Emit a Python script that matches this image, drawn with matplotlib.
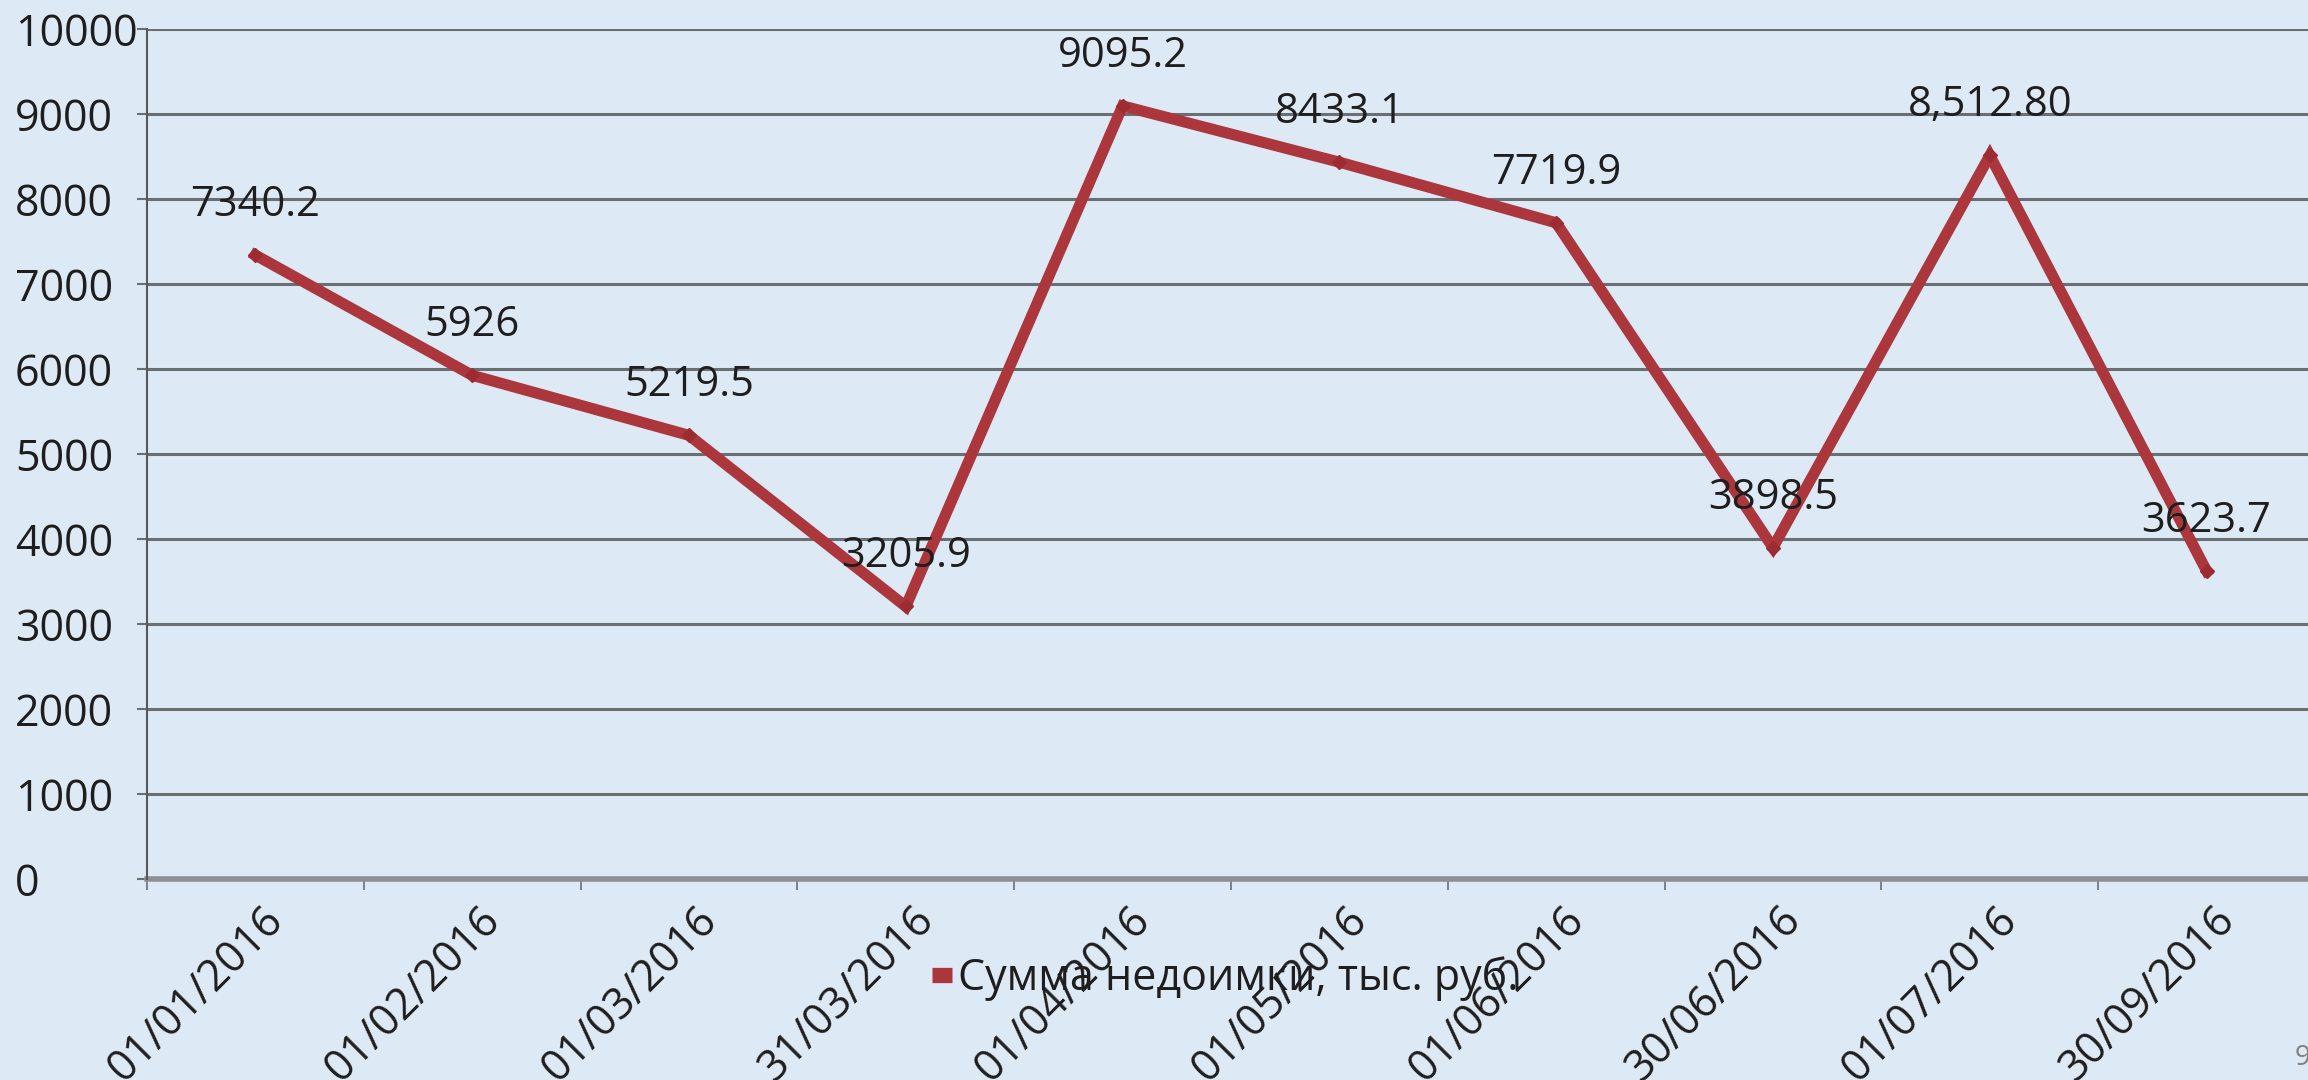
import matplotlib
matplotlib.use("Agg")
import matplotlib.pyplot as plt
from matplotlib.transforms import ScaledTranslation

# data
dates = ["01/01/2016", "01/02/2016", "01/03/2016", "31/03/2016", "01/04/2016",
         "01/05/2016", "01/06/2016", "30/06/2016", "01/07/2016", "30/09/2016"]
arrears = [7340.2, 5926, 5219.5, 3205.9, 9095.2, 8433.1, 7719.9, 3898.5, 8512.8, 3623.7]
value_labels = ["7340.2", "5926", "5219.5", "3205.9", "9095.2",
                "8433.1", "7719.9", "3898.5", "8,512.80", "3623.7"]
y_ticks = [0, 1000, 2000, 3000, 4000, 5000, 6000, 7000, 8000, 9000, 10000]
series_name = "Сумма недоимки, тыс. руб."

bg_color = "#dde9f5"
line_color = "#ab373d"
text_color = "#1e1e1e"
grid_color = "#6a6f74"

plt.rcParams["font.family"] = ["Open Sans", "DejaVu Sans"]

fig = plt.figure(figsize=(23.08, 10.80), dpi=100)
fig.patch.set_facecolor(bg_color)
ax = fig.add_axes([147 / 2308, 201 / 1080, (2315 - 147) / 2308, (879 - 29) / 1080])
ax.set_facecolor("none")

x = list(range(len(dates)))
line, = ax.plot(x, arrears, color=line_color, linewidth=8, solid_joinstyle="miter",
                marker="D", markersize=7, markerfacecolor="#9c2b32",
                markeredgecolor="#9c2b32", label=series_name, zorder=3)

for xi, yi, txt in zip(x, arrears, value_labels):
    ax.annotate(txt, (xi, yi), xytext=(0, 36), textcoords="offset points",
                ha="center", va="center", fontsize=30, color=text_color, zorder=4)

ax.set_xlim(-0.5, len(dates) - 0.5)
ax.set_ylim(0, 10000)

# horizontal grid
ax.set_yticks(y_ticks)
ax.yaxis.grid(True, color=grid_color, linewidth=2.2)
ax.set_axisbelow(True)
ax.tick_params(axis="y", length=7, width=1.5, color=grid_color, pad=88,
               labelsize=31, labelcolor=text_color)
for lbl in ax.get_yticklabels():
    lbl.set_horizontalalignment("left")

# category boundaries as tick marks, labels in the middle
ax.set_xticks([i - 0.5 for i in range(len(dates) + 1)], minor=False)
ax.set_xticklabels([])
ax.tick_params(axis="x", which="major", length=8, width=1.2, color=grid_color)
ax.set_xticks(x, minor=True)
ax.set_xticklabels(dates, minor=True, rotation=45, ha="right",
                   rotation_mode="anchor", fontsize=31, color=text_color)
ax.tick_params(axis="x", which="minor", length=0, pad=14)
offset = ScaledTranslation(0.06, 0, fig.dpi_scale_trans)
for lbl in ax.get_xticklabels(minor=True):
    lbl.set_transform(lbl.get_transform() + offset)

for side in ["top", "right"]:
    ax.spines[side].set_visible(False)
ax.spines["left"].set_color("#55595d")
ax.spines["left"].set_linewidth(1.5)
ax.spines["bottom"].set_color("#8c9094")
ax.spines["bottom"].set_linewidth(4)
ax.spines["bottom"].set_zorder(2)

leg = fig.legend(handles=[line], loc="center", bbox_to_anchor=(0.531, 0.094),
                 frameon=False, fontsize=31, handlelength=0.45, handletextpad=0.15,
                 labelcolor=text_color)
leg.set_zorder(10)
leg.legend_handles[0].set_linewidth(11)
leg.legend_handles[0].set_solid_capstyle("butt")
leg.legend_handles[0].set_marker("")

fig.text(0.994, 0.020, "9", ha="left", va="center", fontsize=20, color="#808080")

fig.savefig("out.png", dpi=100, facecolor=bg_color)
